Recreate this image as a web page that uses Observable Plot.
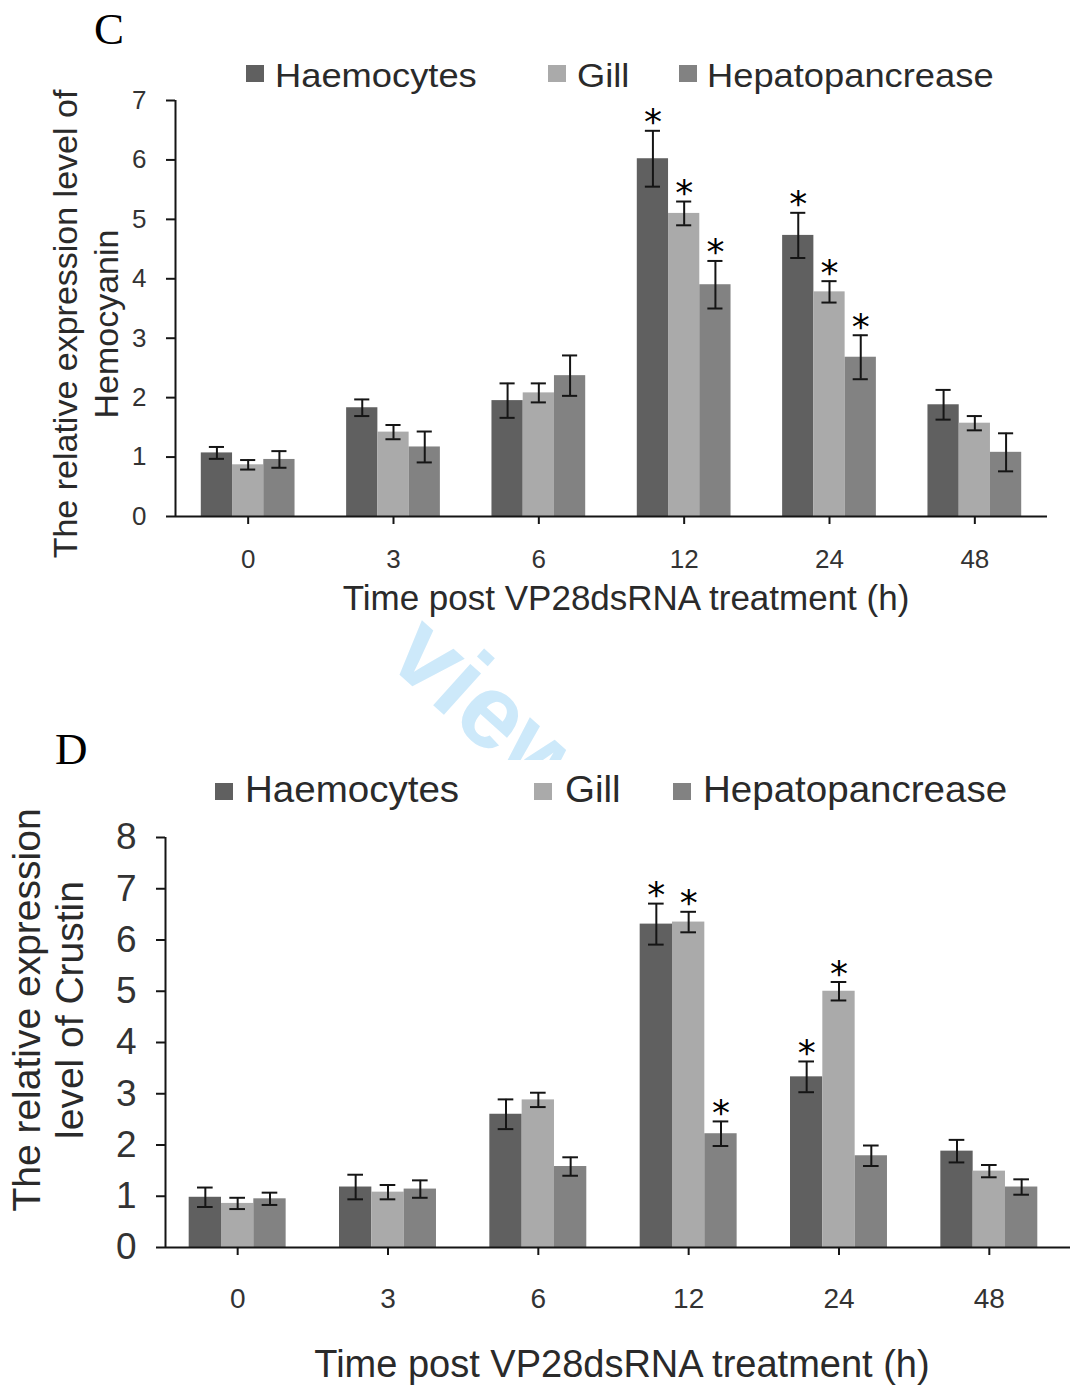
<!DOCTYPE html>
<html>
<head>
<meta charset="utf-8">
<script src="https://cdn.jsdelivr.net/npm/d3@7"></script>
<script src="https://cdn.jsdelivr.net/npm/@observablehq/plot@0.6"></script>
<style>
  body { margin: 0; background: #fff; }
  #page { position: relative; width: 1074px; height: 1389px; overflow: hidden; background: #fff;
          font-family: "Liberation Sans", Arial, sans-serif; color: #2e2e2e; }
  .abs { position: absolute; white-space: pre; line-height: 1; }
  .panel { position: absolute; left: 0; width: 1074px; background: #fff; }
  .sq { position: absolute; width: 18px; height: 17px; }
</style>
</head>
<body>
<div id="page"></div>
<script>
// ---------- shared categories ----------
const times = ["0", "3", "6", "12", "24", "48"];
const tissues = ["Haemocytes", "Gill", "Hepatopancrease"];
const tissueColors = ["#606060", "#aaaaaa", "#828282"];

// ---------- Panel C : Hemocyanin ----------
const cHaemocytes    = [1.07, 1.83, 1.95, 6.02, 4.73, 1.88];
const cHaemocytesErr = [0.10, 0.14, 0.29, 0.47, 0.38, 0.25];
const cHaemocytesSig = [0, 0, 0, 1, 1, 0];
const cGill          = [0.87, 1.42, 2.08, 5.10, 3.78, 1.57];
const cGillErr       = [0.08, 0.12, 0.16, 0.20, 0.18, 0.12];
const cGillSig       = [0, 0, 0, 1, 1, 0];
const cHep           = [0.96, 1.17, 2.37, 3.90, 2.68, 1.08];
const cHepErr        = [0.14, 0.26, 0.34, 0.40, 0.37, 0.32];
const cHepSig        = [0, 0, 0, 1, 1, 0];
const cYTicks = [0, 1, 2, 3, 4, 5, 6, 7];

// ---------- Panel D : Crustin ----------
const dHaemocytes    = [0.98, 1.18, 2.60, 6.31, 3.33, 1.88];
const dHaemocytesErr = [0.19, 0.24, 0.29, 0.40, 0.30, 0.22];
const dHaemocytesSig = [0, 0, 0, 1, 1, 0];
const dGill          = [0.86, 1.08, 2.88, 6.35, 5.00, 1.49];
const dGillErr       = [0.11, 0.14, 0.14, 0.20, 0.18, 0.12];
const dGillSig       = [0, 0, 0, 1, 1, 0];
const dHep           = [0.95, 1.14, 1.58, 2.22, 1.79, 1.18];
const dHepErr        = [0.12, 0.17, 0.18, 0.24, 0.20, 0.15];
const dHepSig        = [0, 0, 0, 1, 0, 0];
const dYTicks = [0, 1, 2, 3, 4, 5, 6, 7, 8];

const xTitle = "Time post VP28dsRNA treatment (h)";

function buildRows(values, errs, sigs) {
  return times.flatMap((t, i) => tissues.map((s, k) => ({
    slot: i, k, time: t, tissue: s,
    value: values[k][i], err: errs[k][i], sig: sigs[k][i]
  })));
}

const barW = 0.215;   // width of one bar in group units
const capW = 0.052;   // half width of error caps

function panelPlot(rows, o) {
  const cx = d => d.slot + (d.k - 1) * barW;
  const hi = d => d.value + d.err;
  const lo = d => d.value - d.err;
  const ink = "#151515";
  return Plot.plot({
    width: 1074, height: o.height,
    marginTop: o.marginTop, marginBottom: o.marginBottom,
    marginLeft: o.marginLeft, marginRight: o.marginRight,
    style: { fontFamily: "Liberation Sans, Arial, sans-serif", background: "transparent", color: "#2e2e2e" },
    x: { domain: o.xDomain },
    y: { domain: [0, o.yMax] },
    color: { domain: tissues, range: tissueColors },
    marks: [
      Plot.rectY(rows, {
        x1: d => d.slot + (d.k - 1.5) * barW,
        x2: d => d.slot + (d.k - 0.5) * barW,
        y: "value", fill: "tissue"
      }),
      Plot.ruleY([0], { stroke: ink, strokeWidth: 2 }),
      Plot.ruleX([o.xDomain[0]], { y1: 0, y2: o.yMax, stroke: ink, strokeWidth: 2 }),
      Plot.ruleX(rows, { x: cx, y1: lo, y2: hi, stroke: ink, strokeWidth: 2 }),
      Plot.ruleY(rows, { y: hi, x1: d => cx(d) - capW, x2: d => cx(d) + capW, stroke: ink, strokeWidth: 2 }),
      Plot.ruleY(rows, { y: lo, x1: d => cx(d) - capW, x2: d => cx(d) + capW, stroke: ink, strokeWidth: 2 }),
      Plot.text(rows.filter(d => d.sig), {
        x: cx, y: hi, text: () => "*", fontSize: 36, fill: "#000",
        fontFamily: "DejaVu Sans, sans-serif", dy: -8
      }),
      Plot.axisX(d3.range(times.length), {
        tickFormat: i => times[i], tickSize: 8, tickPadding: o.xTickPadding,
        fontSize: o.xFont, label: null, stroke: ink, strokeWidth: 2, fill: "#333"
      }),
      o.endTick ? Plot.tickX([o.xDomain[1]], { y: 0, dy: 4, stroke: ink, strokeWidth: 2, insetTop: 0 }) : null,
      Plot.axisY(o.yTicks, {
        tickSize: 9, tickPadding: o.yTickPadding, fontSize: o.yFont, label: null,
        tickFormat: d => String(d),
        stroke: ink, strokeWidth: 2, fill: "#333"
      })
    ]
  });
}

const page = document.getElementById("page");
function el(tag, cls, style, text) {
  const e = document.createElement(tag);
  if (cls) e.className = cls;
  Object.assign(e.style, style);
  if (text != null) e.textContent = text;
  page.appendChild(e);
  return e;
}

// watermark (behind the panels)
el("div", "abs", {
  left: "444px", top: "595px", fontSize: "105px", fontWeight: "bold",
  color: "#cde9fa", transformOrigin: "0 0", transform: "rotate(42deg)",
  fontFamily: "Liberation Sans, Arial, sans-serif"
}, "view");

// ----- Panel C -----
const pc = el("div", "panel", { top: "0px", height: "618px" });
pc.appendChild(panelPlot(buildRows([cHaemocytes, cGill, cHep], [cHaemocytesErr, cGillErr, cHepErr], [cHaemocytesSig, cGillSig, cHepSig]), {
  height: 618, marginTop: 100, marginBottom: 102, marginLeft: 175, marginRight: 27,
  xDomain: [-0.5, 5.5], yMax: 7, yTicks: cYTicks,
  xTickPadding: 25, xFont: 26, yTickPadding: 20, yFont: 26, endTick: false
}));

// ----- Panel D -----
const pd = el("div", "panel", { top: "760px", height: "629px" });
pd.appendChild(panelPlot(buildRows([dHaemocytes, dGill, dHep], [dHaemocytesErr, dGillErr, dHepErr], [dHaemocytesSig, dGillSig, dHepSig]), {
  height: 629, marginTop: 77, marginBottom: 142, marginLeft: 165, marginRight: 4,
  xDomain: [-0.48, 5.54], yMax: 8, yTicks: dYTicks,
  xTickPadding: 33, xFont: 28, yTickPadding: 20, yFont: 37, endTick: false
}));

// ----- text overlays -----
// panel letters
el("div", "abs", { left: "94px", top: "7px", fontSize: "45px", fontFamily: "Liberation Serif, Times New Roman, serif", color: "#000" }, "C");
el("div", "abs", { left: "55px", top: "727px", fontSize: "45px", fontFamily: "Liberation Serif, Times New Roman, serif", color: "#000" }, "D");

// legends
function legend(items, squareY, textTop, fontSize, scale) {
  items.forEach((it, k) => {
    el("div", "sq", { left: it.sq + "px", top: squareY + "px", background: tissueColors[k] });
    el("div", "abs", { left: it.tx + "px", top: textTop + "px", fontSize: fontSize + "px",
      transformOrigin: "0 0", transform: `scaleX(${scale})`, color: "#2a2a2a" }, tissues[k]);
  });
}
legend([{ sq: 246, tx: 275 }, { sq: 548, tx: 577 }, { sq: 679, tx: 707 }], 65, 58.7, 33, 1.1);
legend([{ sq: 215, tx: 245 }, { sq: 534, tx: 565 }, { sq: 673, tx: 703 }], 783, 772.3, 36, 1.07);

// x titles
el("div", "abs", { left: "626px", top: "580px", fontSize: "35px", transform: "translateX(-50%)", color: "#2a2a2a" }, xTitle);
el("div", "abs", { left: "622px", top: "1345px", fontSize: "38px", transform: "translateX(-50%)", color: "#2a2a2a" }, xTitle);

// y titles (two lines, rotated)
el("div", "abs", { left: "86px", top: "324px", fontSize: "34px", lineHeight: "41px", textAlign: "center",
  transform: "translate(-50%,-50%) rotate(-90deg)", color: "#2a2a2a" },
  "The relative expression level of\nHemocyanin");
el("div", "abs", { left: "48px", top: "1010px", fontSize: "39px", lineHeight: "43px", textAlign: "center",
  transform: "translate(-50%,-50%) rotate(-90deg)", color: "#2a2a2a" },
  "The relative expression\nlevel of Crustin");
</script>
</body>
</html>
